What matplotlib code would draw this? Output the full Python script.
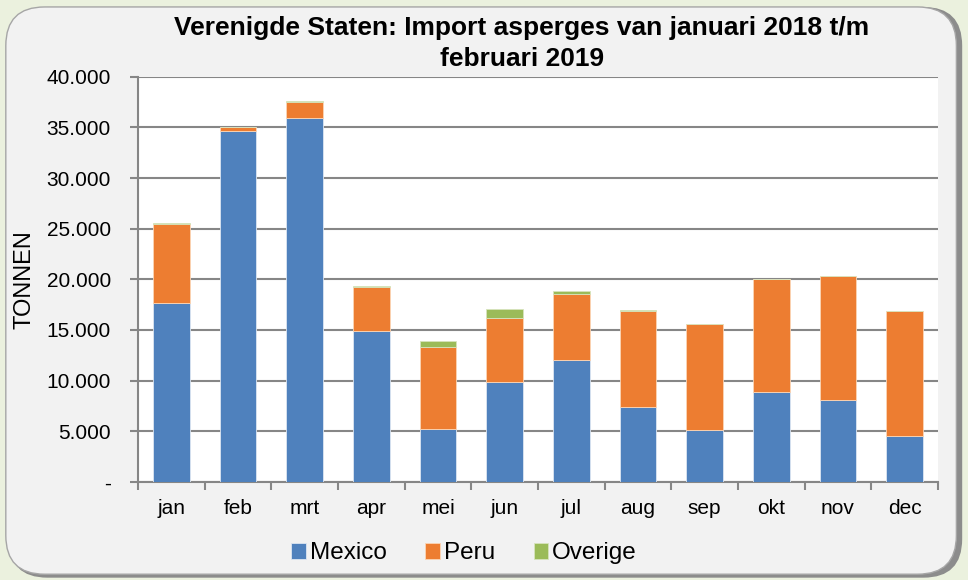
import matplotlib.pyplot as plt
from matplotlib.patches import FancyBboxPatch
import numpy as np

plt.rcParams['font.family'] = ['Liberation Sans', 'DejaVu Sans']

# maanden en import in tonnen
maanden = ['jan', 'feb', 'mrt', 'apr', 'mei', 'jun', 'jul', 'aug', 'sep', 'okt', 'nov', 'dec']
mexico = [17700, 34650, 35950, 14930, 5200, 9900, 12080, 7440, 5130, 8920, 8130, 4580]
peru = [7800, 350, 1600, 4300, 8150, 6280, 6520, 9480, 10440, 11120, 12240, 12300]
overige = [100, 0, 30, 70, 600, 920, 200, 30, 0, 0, 0, 0]

yticks = [0, 5000, 10000, 15000, 20000, 25000, 30000, 35000, 40000]
ylabels = ['-', '5.000', '10.000', '15.000', '20.000', '25.000', '30.000', '35.000', '40.000']

fig = plt.figure(figsize=(9.68, 5.8), dpi=100)
fig.patch.set_facecolor('#ebf1de')

# grijs kader met afgeronde hoeken en schaduw
shadow = FancyBboxPatch((0.009, 0.004), 0.985, 0.984, boxstyle='round,pad=0,rounding_size=0.04',
                        transform=fig.transFigure, facecolor='#8c8c8c', edgecolor='none',
                        mutation_aspect=968 / 580, zorder=-2)
frame = FancyBboxPatch((0.006, 0.01), 0.982, 0.978, boxstyle='round,pad=0,rounding_size=0.04',
                       transform=fig.transFigure, facecolor='#f2f2f2', edgecolor='#a6a6a6',
                       linewidth=1, mutation_aspect=968 / 580, zorder=-1)
fig.add_artist(shadow)
fig.add_artist(frame)

ax = fig.add_axes([0.1426, 0.169, 0.8264, 0.6988])
ax.set_facecolor('white')
x = np.arange(len(maanden))
breedte = 0.55

onder2 = np.array(mexico)
onder3 = onder2 + np.array(peru)
ax.bar(x, mexico, breedte, color='#4f81bd', edgecolor='#dce6f2', linewidth=0.6, label='Mexico', zorder=3)
ax.bar(x, peru, breedte, bottom=onder2, color='#ed7d31', edgecolor='#fbd5b5', linewidth=0.6, label='Peru', zorder=3)
ax.bar(x, overige, breedte, bottom=onder3, color='#9bbb59', edgecolor='#d7e4bd', linewidth=0.6, label='Overige', zorder=3)

ax.set_xlim(-0.5, len(maanden) - 0.5)
ax.set_ylim(0, 40000)
ax.set_yticks(yticks)
ax.set_yticklabels(ylabels, fontsize=15)
ax.set_xticks(x)
ax.set_xticklabels(maanden, fontsize=15)
ax.set_xticks(np.arange(-0.5, len(maanden)), minor=True)
ax.tick_params(axis='x', which='major', length=0, pad=12)
ax.tick_params(axis='x', which='minor', length=6, color='#868686', width=1.5)
ax.tick_params(axis='y', length=6, color='#868686', width=1.5, pad=13.5)
ax.yaxis.grid(True, color='#868686', linewidth=1.5, zorder=1)
ax.set_axisbelow(True)

for s in ['top', 'right']:
    ax.spines[s].set_visible(False)
for s in ['left', 'bottom']:
    ax.spines[s].set_color('#868686')
    ax.spines[s].set_linewidth(1.5)

ax.set_ylabel('TONNEN', fontsize=17, labelpad=8)
ax.set_title('Verenigde Staten: Import asperges van januari 2018 t/m\nfebruari 2019',
             fontsize=19, fontweight='bold', x=0.48, pad=8, linespacing=1.35)

ax.legend(loc='upper center', bbox_to_anchor=(0.4075, -0.095), ncol=3, frameon=False,
          fontsize=17.5, handlelength=0.6, handleheight=0.6, handletextpad=0.15, columnspacing=1.6)

fig.savefig('out.png', dpi=100, facecolor=fig.get_facecolor())
